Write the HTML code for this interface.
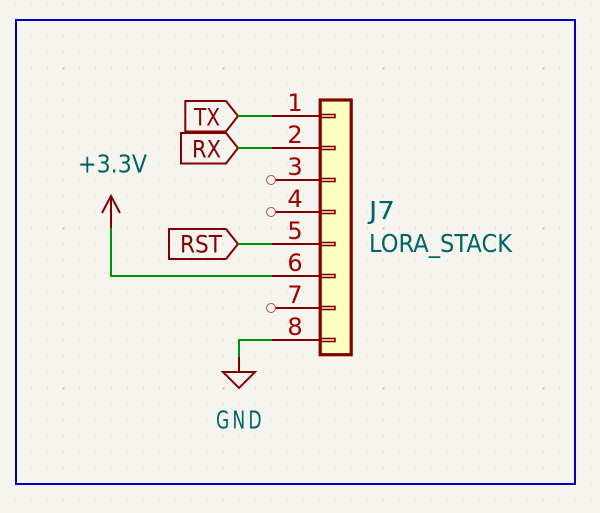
<!DOCTYPE html>
<html>
<head>
<meta charset="utf-8">
<style>
html,body{margin:0;padding:0;background:#f5f4ef;width:600px;height:513px;overflow:hidden}
svg{display:block}
text{font-family:"DejaVu Sans","Liberation Sans",sans-serif;font-weight:400}
.n{fill:#a00000;font-size:24px;text-anchor:middle}
.l{fill:#840000;font-size:24px}
.t{fill:#006464;font-size:24.5px}
</style>
</head>
<body>
<svg width="600" height="513" viewBox="0 0 600 513" xmlns="http://www.w3.org/2000/svg">
<defs>
<pattern id="g" x="15" y="4" width="16" height="16" patternUnits="userSpaceOnUse">
<rect width="1" height="1" fill="#d6d6d1"/>
</pattern>
<pattern id="gc" x="62.5" y="4" width="160" height="16" patternUnits="userSpaceOnUse">
<rect width="2" height="1" fill="#d6d6d1"/>
</pattern>
<pattern id="gr" x="15" y="67.5" width="16" height="160" patternUnits="userSpaceOnUse">
<rect width="1" height="2" fill="#d6d6d1"/>
</pattern>
<pattern id="gm" x="62.5" y="67.5" width="160" height="160" patternUnits="userSpaceOnUse">
<rect width="2" height="2" fill="#c4c4bf"/>
</pattern>
</defs>
<rect width="600" height="513" fill="#f5f4ef"/>
<rect width="600" height="513" fill="url(#g)"/>
<rect width="600" height="513" fill="url(#gc)"/>
<rect width="600" height="513" fill="url(#gr)"/>
<rect width="600" height="513" fill="url(#gm)"/>
<rect x="16" y="20" width="559" height="464" fill="none" stroke="#0000c2" stroke-width="2"/>

<rect x="320.2" y="100" width="31" height="254.7" fill="#ffffc2" stroke="#840000" stroke-width="3.2"/>

<g fill="none" stroke="#840000" stroke-width="2">
<g stroke-width="1.6">
<rect x="321" y="114.5" width="14" height="3"/>
<rect x="321" y="146.5" width="14" height="3"/>
<rect x="321" y="178.5" width="14" height="3"/>
<rect x="321" y="210.5" width="14" height="3"/>
<rect x="321" y="242.5" width="14" height="3"/>
<rect x="321" y="274.5" width="14" height="3"/>
<rect x="321" y="306.5" width="14" height="3"/>
<rect x="321" y="338.5" width="14" height="3"/>
</g>
<path d="M272 116H320M272 148H320M275 180H320M275 212H320M272 244H320M272 276H320M275 308H320M272 340H320"/>
<path d="M111 228V196M102 213L111 196L120 213"/>
<path d="M239 357V372M223 372H255L239 388Z"/>
<path d="M185.3 101H226L238 116L226 131.5H185.3Z"/>
<path d="M181 133H226L238 148L226 163.5H181Z"/>
<path d="M169 229H226L238 244L226 259H169Z"/>
</g>

<g fill="none" stroke="#009600" stroke-width="2">
<path d="M238 116H272M238 148H272M238 244H272"/>
<path d="M272 276H111V228"/>
<path d="M272 340H239V357"/>
</g>

<g fill="none" stroke="#b05050" stroke-width="1">
<circle cx="271" cy="180" r="4.5"/>
<circle cx="271" cy="212" r="4.5"/>
<circle cx="271" cy="308" r="4.5"/>
</g>

<text class="n" x="295" y="111">1</text>
<text class="n" x="295" y="143">2</text>
<text class="n" x="295" y="175">3</text>
<text class="n" x="295" y="207">4</text>
<text class="n" x="295" y="239">5</text>
<text class="n" x="295" y="271">6</text>
<text class="n" x="295" y="303">7</text>
<text class="n" x="295" y="335">8</text>

<text class="l" x="194" y="125.5" textLength="26" lengthAdjust="spacingAndGlyphs">TX</text>
<text class="l" x="192" y="157.5" textLength="29" lengthAdjust="spacingAndGlyphs">RX</text>
<text class="l" x="180" y="252.7" textLength="42" lengthAdjust="spacingAndGlyphs">RST</text>

<text class="t" x="78" y="172.3" textLength="69" lengthAdjust="spacingAndGlyphs">+3.3V</text>
<text class="t" transform="translate(216 428.3) scale(.7 1)" letter-spacing="4.5">GND</text>
<text class="t" x="369" y="219" textLength="26" lengthAdjust="spacingAndGlyphs">J7</text>
<text class="t" x="369" y="252" textLength="143" lengthAdjust="spacingAndGlyphs">LORA_STACK</text>
</svg>
</body>
</html>
